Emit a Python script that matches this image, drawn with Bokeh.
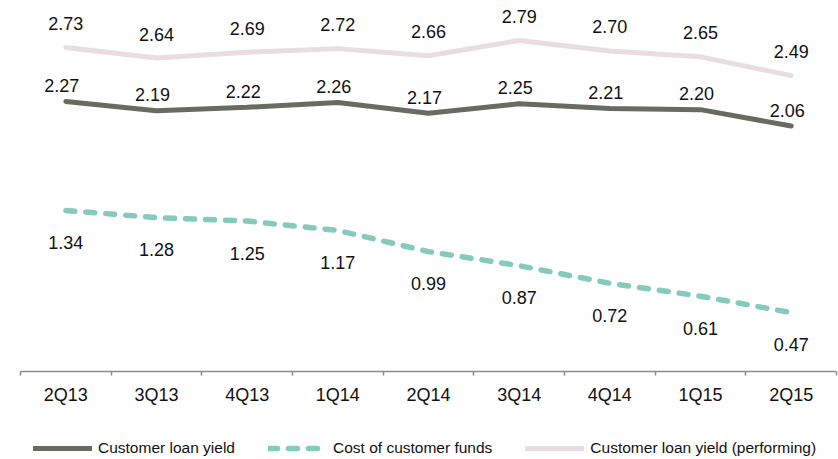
import numpy as np
from bokeh.plotting import figure
from bokeh.layouts import column
from bokeh.models import ColumnDataSource, Range1d, FixedTicker, Legend, LegendItem
from bokeh.core.properties import value
from bokeh.embed import file_html
from bokeh.resources import INLINE

quarters = ["2Q13", "3Q13", "4Q13", "1Q14", "2Q14", "3Q14", "4Q14", "1Q15", "2Q15"]
loan_yield = [2.27, 2.19, 2.22, 2.26, 2.17, 2.25, 2.21, 2.20, 2.06]
cost_funds = [1.34, 1.28, 1.25, 1.17, 0.99, 0.87, 0.72, 0.61, 0.47]
loan_yield_perf = [2.73, 2.64, 2.69, 2.72, 2.66, 2.79, 2.70, 2.65, 2.49]
series_names = ["Customer loan yield", "Cost of customer funds", "Customer loan yield (performing)"]

idx = list(range(len(quarters)))

C_LOAN = "#686b60"
C_COST = "#84cbbd"
C_PERF = "#e9dde1"

FONT = "Liberation Sans"

p = figure(frame_width=816, frame_height=363, output_backend="svg", toolbar_location=None,
           x_range=Range1d(-0.5, len(quarters) - 0.5), y_range=Range1d(-0.032, 3.062),
           min_border_left=20, min_border_right=2, min_border_top=8, min_border_bottom=50)
p.outline_line_color = None
p.xgrid.visible = False
p.ygrid.visible = False
p.yaxis.visible = False

src = ColumnDataSource(dict(x=idx, loan=loan_yield, cost=cost_funds, perf=loan_yield_perf,
                            loan_t=[f"{v:.2f}" for v in loan_yield],
                            cost_t=[f"{v:.2f}" for v in cost_funds],
                            perf_t=[f"{v:.2f}" for v in loan_yield_perf]))

perf_style = dict(line_color=C_PERF, line_width=5, line_cap="round")
loan_style = dict(line_color=C_LOAN, line_width=5, line_cap="round")
cost_style = dict(line_color=C_COST, line_width=5.5, line_cap="round", line_dash="9 11")

p.line("x", "perf", source=src, **perf_style)
p.line("x", "loan", source=src, **loan_style)
p.line("x", "cost", source=src, **cost_style)

common = dict(text_font=value(FONT), text_font_size="18px", text_color="#111111",
              text_align="center", text_baseline="middle")
p.text("x", "perf", text="perf_t", source=src, y_offset=-24, **common)
p.text("x", "loan", text="loan_t", source=src, y_offset=-16, x_offset=-4, **common)
p.text("x", "cost", text="cost_t", source=src, y_offset=32, **common)

ax = p.xaxis[0]
ax.ticker = FixedTicker(ticks=idx, minor_ticks=[i - 0.5 for i in range(len(quarters) + 1)])
ax.major_label_overrides = {i: q for i, q in enumerate(quarters)}
ax.major_tick_line_color = None
ax.major_tick_out = 0
ax.major_tick_in = 0
ax.minor_tick_out = 4
ax.minor_tick_in = 0
ax.minor_tick_line_color = "#8c8c8c"
ax.minor_tick_line_width = 1.5
ax.axis_line_color = "#8c8c8c"
ax.axis_line_width = 1.5
ax.major_label_text_font = FONT
ax.major_label_text_font_size = "18px"
ax.major_label_text_color = "#111111"
ax.major_label_standoff = 9

# legend strip: same series drawn out of view so only the legend shows
q = figure(width=838, height=38, output_backend="svg", toolbar_location=None,
           x_range=Range1d(-0.5, len(quarters) - 0.5), y_range=Range1d(100, 101),
           min_border_left=0, min_border_right=0, min_border_top=0, min_border_bottom=0)
q.outline_line_color = None
q.xgrid.visible = False
q.ygrid.visible = False
q.xaxis.visible = False
q.yaxis.visible = False
l1 = q.line("x", "loan", source=src, **loan_style)
l2 = q.line("x", "cost", source=src, **cost_style)
l3 = q.line("x", "perf", source=src, **perf_style)

legend = Legend(items=[LegendItem(label=series_names[0], renderers=[l1]),
                       LegendItem(label=series_names[1], renderers=[l2]),
                       LegendItem(label=series_names[2], renderers=[l3])],
                orientation="horizontal", location=(13, 2),
                glyph_width=59, glyph_height=16, label_standoff=6, spacing=33,
                padding=0, margin=0, border_line_color=None, background_fill_alpha=0,
                label_text_font=FONT, label_text_font_size="15.5px", label_text_color="#111111",
                label_height=16)
q.add_layout(legend, "center")

layout = column(p, q, spacing=0)
open("out.html", "w").write(file_html(layout, INLINE))
